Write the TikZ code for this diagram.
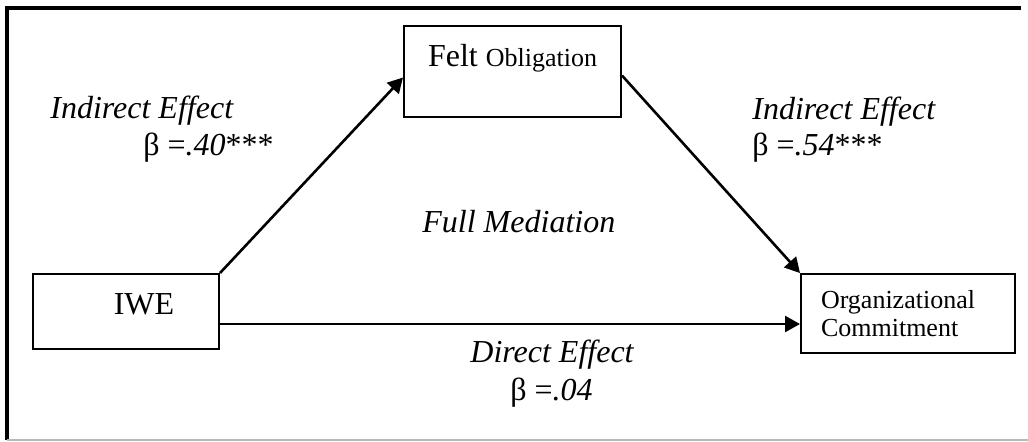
\documentclass[tikz,border=0pt]{standalone}
\usepackage{fontspec}
\setmainfont{Liberation Serif}
\usetikzlibrary{arrows.meta,positioning,calc}

\newcommand{\bigtxt}{\fontsize{16}{19}\selectfont}
\newcommand{\smalltxt}{\fontsize{13}{14}\selectfont}

\tikzset{
  box/.style={draw, rectangle, line width=1pt, inner sep=0pt, anchor=north west},
  arr/.style={line width=1.3pt, -{Triangle[length=7.5pt,width=8pt]}},
  lbl/.style={anchor=base west, inner sep=0pt, font=\bigtxt},
}

\begin{document}
\begin{tikzpicture}[x=0.5pt,y=-0.5pt]
  \useasboundingbox (0,0) rectangle (1028,441);

  % frame
  \draw[line width=1.6pt] (1021,8) -- (7,8) -- (7,440);
  \draw[gray!55, line width=0.8pt] (7,440) -- (1028,440);

  \node[box, minimum width=93pt, text height=20pt, text depth=17.5pt, font=\bigtxt] (iwe) at (32,273) {\hspace*{18pt}IWE};
  \node[box, minimum width=108.5pt, text height=20pt, text depth=25.5pt, font=\bigtxt] (felt) at (403,25) {Felt {\smalltxt Obligation}};
  \node[box, inner xsep=10pt, text width=87pt, minimum height=39.5pt, align=left, font=\smalltxt] (org) at (800,273) {Organizational\\Commitment};

  \coordinate (iweout) at ([yshift=-6.25pt]iwe.east);

  \draw[arr] (iwe.north east) -- ([yshift=-3pt]felt.west);
  \draw[arr] ([yshift=-2pt]felt.east) -- (org.north west);
  \draw[arr] (iweout) -- (iweout -| org.west);

  \node[lbl] (lindirect) at (50,118) {\textit{Indirect Effect}};
  \node[lbl] (lbeta) at (143,155) {β =\textit{.40}***};
  \node[lbl] (rindirect) at (752,119) {\textit{Indirect Effect}};
  \node[lbl] (rbeta) at (752,155) {β =\textit{.54}***};
  \node[lbl] (mediation) at (422,232) {\textit{Full Mediation}};
  \node[lbl] (direct) at (470,362) {\textit{Direct Effect}};
  \node[lbl] (dbeta) at (510,400) {β =\textit{.04}};
\end{tikzpicture}
\end{document}
